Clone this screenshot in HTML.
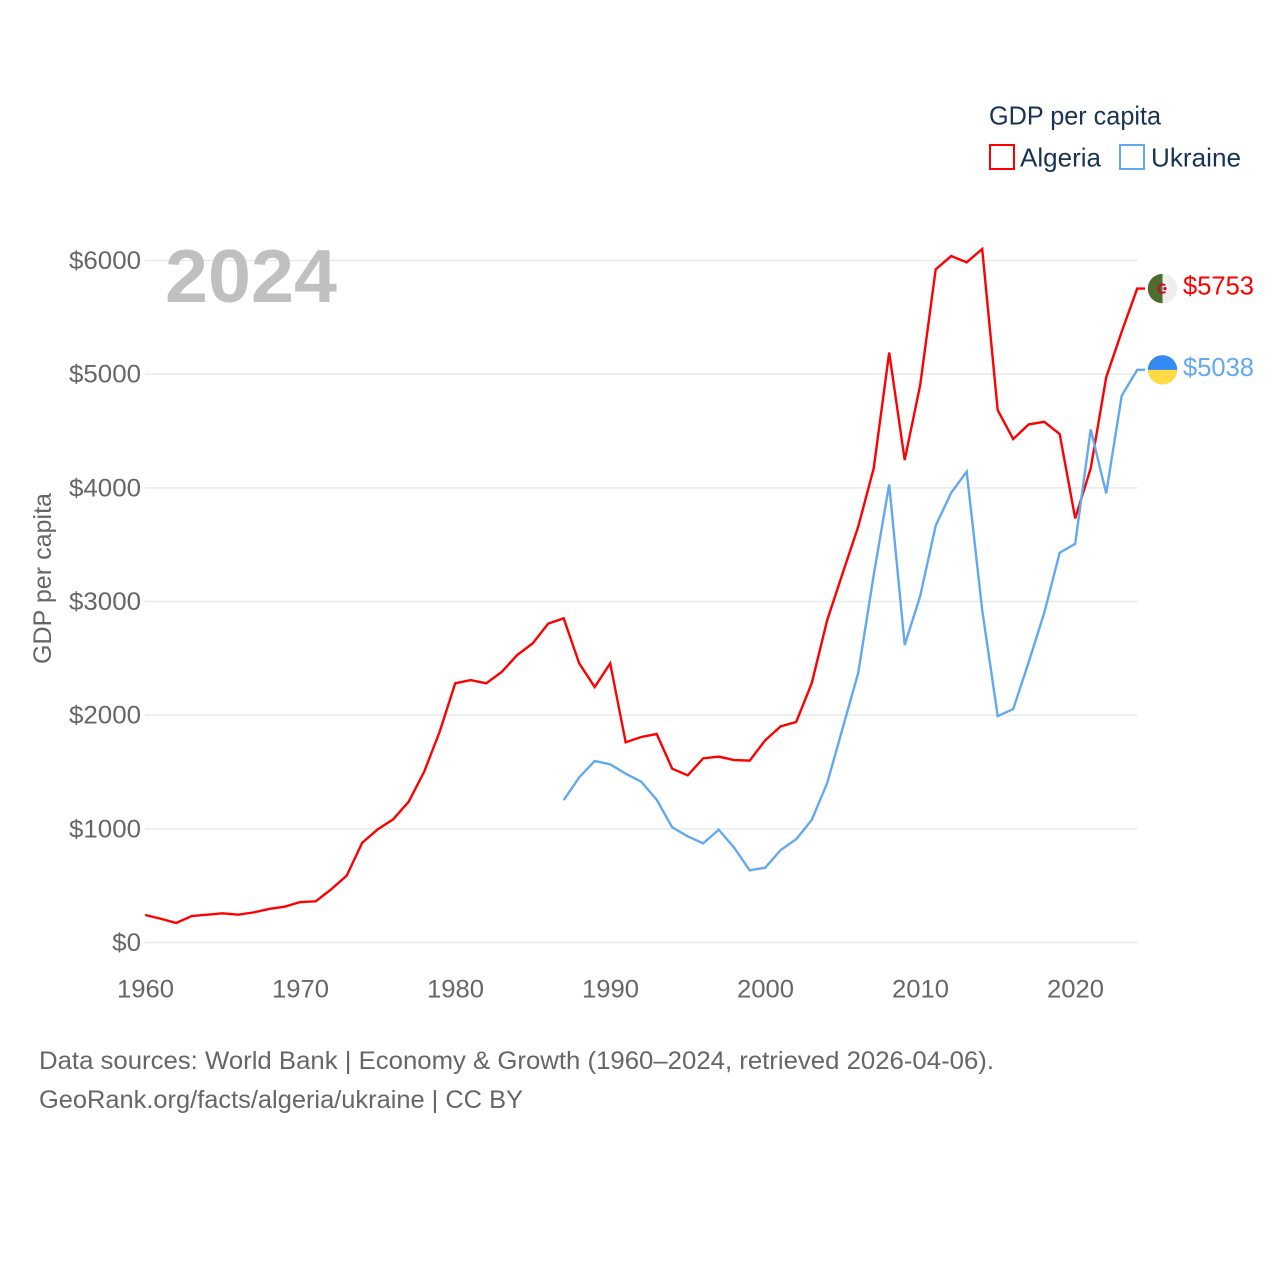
<!DOCTYPE html>
<html lang="en">
<head>
<meta charset="utf-8">
<title>GDP per capita: Algeria vs Ukraine</title>
<style>
html,body{margin:0;padding:0;background:#fff;width:1280px;height:1280px;overflow:hidden}
svg{display:block}
text{font-family:"Liberation Sans",sans-serif}
</style>
</head>
<body>
<svg id="chart" xmlns="http://www.w3.org/2000/svg" width="1280" height="1280" viewBox="0 0 1280 1280">
  <rect x="0" y="0" width="1280" height="1280" fill="#ffffff"/>
  <g id="grid"></g>
  <g id="yticks"></g>
  <g id="xticks"></g>
  <text x="165" y="302" font-size="75" font-weight="700" fill="#c0c0c0" textLength="172" lengthAdjust="spacingAndGlyphs">2024</text>
  <text transform="translate(51,664) rotate(-90)" font-size="25" fill="#666666" textLength="171" lengthAdjust="spacingAndGlyphs">GDP per capita</text>
  <g id="series"></g>
  <g id="flags"></g>
  <g>
    <text x="989" y="124.5" font-size="26" fill="#1a3353" textLength="172" lengthAdjust="spacingAndGlyphs">GDP per capita</text>
    <rect x="990" y="145" width="24" height="24" fill="none" stroke="#ff0000" stroke-width="2"/>
    <text x="1020" y="166.5" font-size="26" fill="#1a3353" textLength="81" lengthAdjust="spacingAndGlyphs">Algeria</text>
    <rect x="1120" y="145" width="24" height="24" fill="none" stroke="#63a9ee" stroke-width="2"/>
    <text x="1151" y="166.5" font-size="26" fill="#1a3353" textLength="90" lengthAdjust="spacingAndGlyphs">Ukraine</text>
  </g>
  <g>
    <text x="39" y="1069" font-size="25" fill="#666666" textLength="955" lengthAdjust="spacingAndGlyphs">Data sources: World Bank | Economy &amp; Growth (1960–2024, retrieved 2026-04-06).</text>
    <text x="39" y="1108" font-size="25" fill="#666666" textLength="484" lengthAdjust="spacingAndGlyphs">GeoRank.org/facts/algeria/ukraine | CC BY</text>
  </g>
</svg>
<script>
const years = [1960,1961,1962,1963,1964,1965,1966,1967,1968,1969,1970,1971,1972,1973,1974,1975,1976,1977,1978,1979,1980,1981,1982,1983,1984,1985,1986,1987,1988,1989,1990,1991,1992,1993,1994,1995,1996,1997,1998,1999,2000,2001,2002,2003,2004,2005,2006,2007,2008,2009,2010,2011,2012,2013,2014,2015,2016,2017,2018,2019,2020,2021,2022,2023,2024];
const algeria = [242,209,172,233,245,257,245,265,295,315,356,362,468,588,878,996,1084,1239,1503,1855,2280,2309,2280,2380,2529,2632,2805,2852,2456,2247,2456,1761,1808,1834,1529,1471,1620,1635,1605,1600,1779,1902,1940,2280,2836,3250,3658,4171,5190,4245,4905,5922,6039,5984,6101,4684,4429,4558,4581,4473,3731,4171,4972,5373,5753];
const ukraine = [null,null,null,null,null,null,null,null,null,null,null,null,null,null,null,null,null,null,null,null,null,null,null,null,null,null,null,1253,1453,1597,1567,1485,1415,1256,1013,934,872,992,834,635,658,814,908,1078,1403,1887,2371,3233,4030,2617,3048,3667,3957,4142,2925,1992,2054,2467,2899,3429,3508,4514,3952,4810,5038];
const yTickValues = [0,1000,2000,3000,4000,5000,6000];
const xTickValues = [1960,1970,1980,1990,2000,2010,2020];

const SVG_NS = 'http://www.w3.org/2000/svg';
function xScale(year){ return 145.2 + (year - 1960) * 15.5; }
function yScale(value){ return 942.5 - value * 682 / 6000; }
function make(tag, attrs, parent){
  const el = document.createElementNS(SVG_NS, tag);
  for (const k in attrs) el.setAttribute(k, attrs[k]);
  parent.appendChild(el);
  return el;
}

const gridG = document.getElementById('grid');
const yG = document.getElementById('yticks');
yTickValues.forEach(function(v){
  const line = make('line', {x1:145, x2:1137.5, y1:yScale(v), y2:yScale(v), stroke:'#e9e9e9', 'stroke-width':1.5}, gridG);
  
  
  const label = '$' + v;
  const t = make('text', {x:141 - 14.4 * label.length, y:yScale(v) + 8.5, 'font-size':25, fill:'#666666', textLength:14.4 * label.length, lengthAdjust:'spacingAndGlyphs'}, yG);
  
  
  t.textContent = label;
});

const xG = document.getElementById('xticks');
xTickValues.forEach(function(yr){
  const t = make('text', {x:xScale(yr) - 28.2, y:997.5, 'font-size':25, fill:'#666666', textLength:57, lengthAdjust:'spacingAndGlyphs'}, xG);
  
  
  t.textContent = String(yr);
});

function linePath(values, endStub){
  let d = '';
  let last = null;
  values.forEach(function(v, i){
    if (v === null) return;
    d += (d ? 'L' : 'M') + xScale(years[i]).toFixed(2) + ' ' + yScale(v).toFixed(2);
    last = v;
  });
  return d + 'L' + endStub + ' ' + yScale(last).toFixed(2);
}

const seriesG = document.getElementById('series');
const algeriaLine = make('path', {d:linePath(algeria, 1145), fill:'none', stroke:'#ff0000', 'stroke-width':2.4, 'stroke-linejoin':'miter'}, seriesG);


const ukraineLine = make('path', {d:linePath(ukraine, 1145), fill:'none', stroke:'#63a9ee', 'stroke-width':2.4, 'stroke-linejoin':'miter'}, seriesG);



const flagsG = document.getElementById('flags');
const algeriaEnd = algeria[algeria.length - 1];
const ukraineEnd = ukraine[ukraine.length - 1];
const ay = yScale(algeriaEnd);
const uy = yScale(ukraineEnd);
const cx = 1162.5;
const r = 14.7;

const algeriaFlag = make('g', {}, flagsG);


make('circle', {cx:cx, cy:ay, r:r, fill:'#eeeeee'}, algeriaFlag);
make('path', {d:'M'+cx+' '+(ay-r)+'A'+r+' '+r+' 0 0 0 '+cx+' '+(ay+r)+'Z', fill:'#4f6b2e'}, algeriaFlag);
make('circle', {cx:cx, cy:ay, r:4.2, fill:'none', stroke:'#d80027', 'stroke-width':1.8, 'stroke-dasharray':'19 7', 'stroke-dashoffset':'-3.5'}, algeriaFlag);
make('circle', {cx:cx + 2.5, cy:ay, r:1.6, fill:'#d80027'}, algeriaFlag);

const ukraineFlag = make('g', {}, flagsG);


make('circle', {cx:cx, cy:uy, r:r, fill:'#ffda44'}, ukraineFlag);
make('path', {d:'M'+(cx-r)+' '+uy+'A'+r+' '+r+' 0 0 1 '+(cx+r)+' '+uy+'Z', fill:'#338af3'}, ukraineFlag);

const algeriaValue = make('text', {x:1183, y:ay + 6, 'font-size':26, fill:'#ff0000', textLength:71, lengthAdjust:'spacingAndGlyphs'}, flagsG);


algeriaValue.textContent = '$' + algeriaEnd;
const ukraineValue = make('text', {x:1183, y:uy + 6, 'font-size':26, fill:'#63a9ee', textLength:71, lengthAdjust:'spacingAndGlyphs'}, flagsG);


ukraineValue.textContent = '$' + ukraineEnd;
</script>
</body>
</html>
